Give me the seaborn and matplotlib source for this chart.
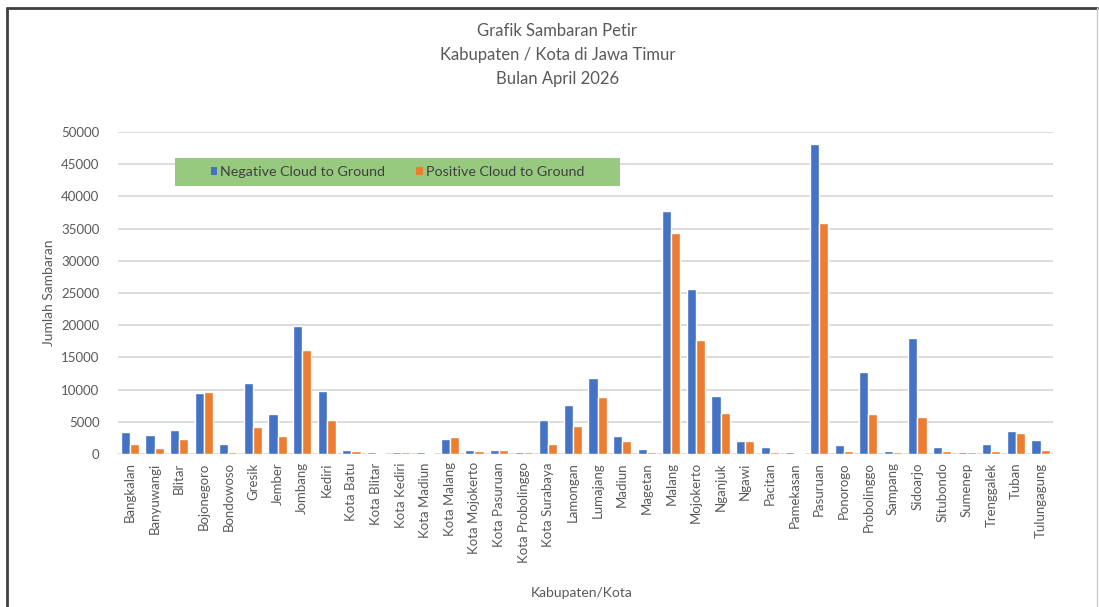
import pandas as pd
import matplotlib.pyplot as plt
import seaborn as sns
from matplotlib.patches import Patch, Rectangle
from matplotlib.lines import Line2D

# data sambaran petir per kabupaten/kota
wilayah = ['Bangkalan', 'Banyuwangi', 'Blitar', 'Bojonegoro', 'Bondowoso', 'Gresik', 'Jember',
           'Jombang', 'Kediri', 'Kota Batu', 'Kota Blitar', 'Kota Kediri', 'Kota Madiun',
           'Kota Malang', 'Kota Mojokerto', 'Kota Pasuruan', 'Kota Probolinggo', 'Kota Surabaya',
           'Lamongan', 'Lumajang', 'Madiun', 'Magetan', 'Malang', 'Mojokerto', 'Nganjuk', 'Ngawi',
           'Pacitan', 'Pamekasan', 'Pasuruan', 'Ponorogo', 'Probolinggo', 'Sampang', 'Sidoarjo',
           'Situbondo', 'Sumenep', 'Trenggalek', 'Tuban', 'Tulungagung']
negatif = [3400, 2900, 3700, 9450, 1550, 11050, 6150, 19850, 9750, 600, 250, 350, 250,
           2350, 550, 600, 300, 5350, 7550, 11850, 2800, 800, 37800, 25600, 8950, 2000,
           1150, 300, 48100, 1450, 12700, 400, 18050, 1050, 350, 1550, 3650, 2150]
positif = [1500, 1000, 2300, 9600, 350, 4250, 2850, 16200, 5350, 450, 150, 250, 150,
           2600, 500, 600, 300, 1550, 4400, 8900, 1950, 300, 34300, 17750, 6300, 2000,
           300, 200, 35900, 500, 6250, 300, 5800, 400, 300, 500, 3200, 650]
seri = ['Negative Cloud to Ground', 'Positive Cloud to Ground']
warna = ['#4472C4', '#ED7D31']

df = pd.DataFrame({'Wilayah': wilayah * 2,
                   'Jumlah': negatif + positif,
                   'Jenis': [seri[0]] * len(wilayah) + [seri[1]] * len(wilayah)})

sns.set_style('white')
plt.rcParams['font.family'] = ['Lato', 'DejaVu Sans']

fig = plt.figure(figsize=(10.99, 6.07), dpi=100)
ax = fig.add_axes([0.107, 0.252, 0.851, 0.5305])

sns.barplot(data=df, x='Wilayah', y='Jumlah', hue='Jenis', palette=warna,
            width=0.74, saturation=1, ax=ax, legend=False)

ax.set_ylim(0, 50000)
ax.set_xlim(-0.5, len(wilayah) - 0.5)
ax.set_yticks(range(0, 50001, 5000))
ax.yaxis.grid(True, color='#d9d9d9', lw=1.3)
ax.set_axisbelow(True)
for s in ax.spines.values():
    s.set_visible(False)
ax.tick_params(axis='y', length=0, labelsize=9.5, labelcolor='#595959', pad=13)
ax.tick_params(axis='x', length=0, labelsize=9.5, labelcolor='#595959', pad=6)
plt.setp(ax.get_xticklabels(), rotation=90)

ax.set_xlabel('Kabupaten/Kota', fontsize=10, color='#595959')
ax.xaxis.set_label_coords(0.496, -0.432)
ax.xaxis.label.set_va('center')
ax.set_ylabel('Jumlah Sambaran', fontsize=10, color='#595959')
ax.yaxis.set_label_coords(-0.073, 0.5)
ax.yaxis.label.set_va('center')

fig.text(0.507, 1 - 55 / 607,
         'Grafik Sambaran Petir\nKabupaten / Kota di Jawa Timur\nBulan April 2026',
         ha='center', va='center', fontsize=12, color='#595959', linespacing=1.6)

# legenda kotak hijau
ax.add_patch(Rectangle((0.061, 0.832), 0.476, 0.087, transform=ax.transAxes,
                       facecolor='#97c97f', edgecolor='none', zorder=3))
handles = [Patch(facecolor=c, edgecolor='none') for c in warna]
leg = ax.legend(handles, seri, ncol=2, loc='center',
                bbox_to_anchor=(0.299, 0.8755), frameon=False,
                fontsize=10.3, handlelength=0.45, handleheight=0.45, handletextpad=0.2,
                columnspacing=2.2, borderaxespad=0)
leg.set_zorder(4)
for t in leg.get_texts():
    t.set_color('#404040')

# bingkai gambar
fig.add_artist(Line2D([7 / 1099, 7 / 1099], [0, 1 - 8 / 607], color='#404040', lw=2))
fig.add_artist(Line2D([7 / 1099, 1097 / 1099], [1 - 8 / 607, 1 - 8 / 607], color='#404040', lw=2))
fig.add_artist(Line2D([1097 / 1099, 1097 / 1099], [0, 1 - 8 / 607], color='#cccccc', lw=1))

fig.savefig('out.png', dpi=100)
